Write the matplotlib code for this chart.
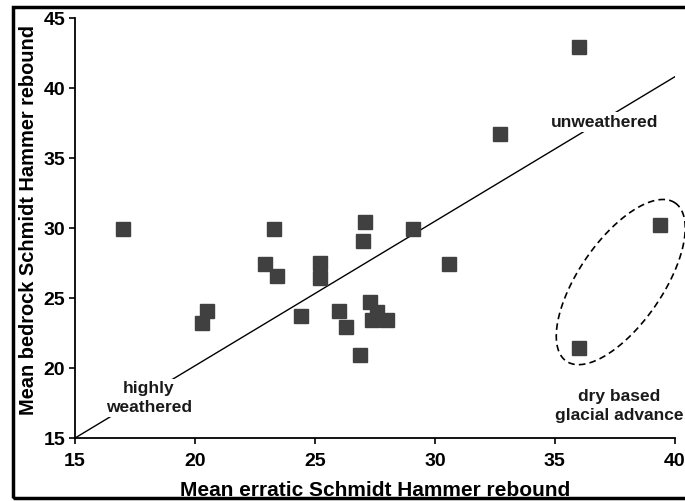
import numpy as np
import matplotlib
matplotlib.use("Agg")
import matplotlib.pyplot as plt
from matplotlib.patches import Rectangle

plt.rcParams['font.family'] = ['Liberation Sans', 'DejaVu Sans']

# mean erratic vs mean bedrock Schmidt hammer rebound
erratic = [17.0, 23.3, 20.5, 20.3, 22.9, 23.4, 25.2, 25.2, 24.4, 26.0, 26.3,
           27.1, 27.0, 29.1, 32.7, 36.0, 39.4, 30.6, 36.0,
           27.3, 27.6, 27.4, 28.0, 26.9]
bedrock = [29.9, 29.9, 24.1, 23.2, 27.4, 26.6, 27.5, 26.4, 23.7, 24.1, 22.9,
           30.4, 29.1, 29.9, 36.7, 42.9, 30.2, 27.4, 21.4,
           24.7, 24.0, 23.4, 23.4, 20.9]

# trend line end points
fit_x = [15, 40]
fit_y = [15, 40.8]

# dashed ellipse round the dry based points (centre, half axes in data units)
ell_centre = (37.75, 26.14)
ell_major = (2.27, 5.65)
ell_minor = (-1.44, 1.70)

fig = plt.figure(figsize=(6.85, 5.01), dpi=100)
ax = fig.add_axes([0.1095, 0.1257, 0.8755, 0.8383])

ax.plot(fit_x, fit_y, color='black', lw=1.0, zorder=1)
ax.plot(erratic, bedrock, 's', color='#404040', ms=10, mec='#404040', zorder=3)

t = np.linspace(0, 2 * np.pi, 300)
ex = ell_centre[0] + ell_major[0] * np.cos(t) + ell_minor[0] * np.sin(t)
ey = ell_centre[1] + ell_major[1] * np.cos(t) + ell_minor[1] * np.sin(t)
ax.plot(ex, ey, color='black', lw=1.2, ls=(0, (4, 2.5)), clip_on=False, zorder=2)

box = dict(facecolor='white', edgecolor='none', pad=1.5)
ax.text(37.08, 37.57, 'unweathered', ha='center', va='center', fontsize=12.5,
        fontweight='bold', color='#1a1a1a', bbox=box, zorder=2)
ax.text(18.08, 17.85, 'highly\nweathered', ha='center', va='center', fontsize=12.5,
        fontweight='bold', color='#1a1a1a', bbox=box, linespacing=1.35, zorder=2)
ax.text(37.67, 17.3, 'dry based\nglacial advance', ha='center', va='center',
        fontsize=12.5, fontweight='bold', color='#1a1a1a', linespacing=1.35, zorder=2)

ax.set_xlim(15, 40)
ax.set_ylim(15, 45)
ax.set_xticks([15, 20, 25, 30, 35, 40])
ax.set_yticks([15, 20, 25, 30, 35, 40, 45])
for s in ['top', 'right']:
    ax.spines[s].set_visible(False)
for s in ['left', 'bottom']:
    ax.spines[s].set_linewidth(1.3)
ax.tick_params(direction='out', length=4, width=1.2, labelsize=14, pad=3)
ax.tick_params(axis='x', pad=7)
for lab in ax.get_xticklabels() + ax.get_yticklabels():
    lab.set_fontweight('bold')

ax.set_xlabel('Mean erratic Schmidt Hammer rebound', fontsize=15,
              fontweight='bold', labelpad=8)
ax.set_ylabel('Mean bedrock Schmidt Hammer rebound', fontsize=14.4,
              fontweight='bold')
ax.yaxis.set_label_coords(-0.062, 0.519)

fig.patches.append(Rectangle((13 / 685, 3 / 501), 1.05, 0.98,
                             transform=fig.transFigure, fill=False,
                             edgecolor='black', lw=2.5, zorder=-1))

fig.savefig('out.png', dpi=100)
